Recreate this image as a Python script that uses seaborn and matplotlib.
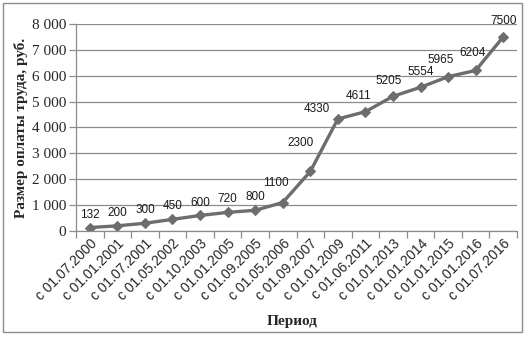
import matplotlib
matplotlib.use("Agg")
import matplotlib.pyplot as plt
import matplotlib.ticker as mticker
from matplotlib.patches import Rectangle
import seaborn as sns
import pandas as pd
import numpy as np

periods = ["с 01.07.2000", "с 01.01.2001", "с 01.07.2001", "с 01.05.2002",
           "с 01.10.2003", "с 01.01.2005", "с 01.09.2005", "с 01.05.2006",
           "с 01.09.2007", "с 01.01.2009", "с 01.06.2011", "с 01.01.2013",
           "с 01.01.2014", "с 01.01.2015", "с 01.01.2016", "с 01.07.2016"]
wages = [132, 200, 300, 450, 600, 720, 800, 1100, 2300, 4330, 4611, 5205,
         5554, 5965, 6204, 7500]

# label offsets in points (dx, dy) for readability
label_offsets = [(0, 5)] * 7 + [(-5, 10), (-7, 16), (-15, 3), (-5, 7), (-3, 7),
                                 (0, 7), (-5, 8), (-2, 8), (0, 7)]

sns.set_theme(style="white")
plt.rcParams["font.family"] = ["Liberation Serif", "DejaVu Serif"]

df = pd.DataFrame({"idx": np.arange(len(periods)), "wage": wages})

fig = plt.figure(figsize=(5.29, 3.40), dpi=100)
ax = fig.add_axes([76 / 529, 1 - 231 / 340, (517 - 76) / 529, (231 - 24) / 340])

sns.lineplot(data=df, x="idx", y="wage", ax=ax, color="#6d6d6d", linewidth=2.4,
             marker="D", markersize=5.5, markeredgecolor="#6d6d6d")

ax.set_xlim(-0.5, len(periods) - 0.5)
ax.set_ylim(0, 8000)
ax.yaxis.set_major_locator(mticker.MultipleLocator(1000))
ax.yaxis.set_major_formatter(mticker.FuncFormatter(
    lambda v, p: f"{int(v):,}".replace(",", " ")))
ax.yaxis.grid(True, color="#8c8c8c", linewidth=0.9)
ax.set_axisbelow(True)

ax.set_xticks(np.arange(len(periods)))
ax.set_xticklabels(periods, rotation=45, ha="right", rotation_mode="anchor",
                   fontsize=10, family=["Liberation Sans", "DejaVu Sans"])
ax.xaxis.set_minor_locator(mticker.FixedLocator(np.arange(-0.5, len(periods), 1)))
ax.tick_params(axis="x", which="major", length=0, pad=4)
ax.tick_params(axis="x", which="minor", length=5, color="#8c8c8c", width=0.9,
               direction="out", bottom=True)
ax.tick_params(axis="y", which="major", length=5, color="#8c8c8c", width=0.9,
               direction="out", left=True, labelsize=11, pad=2)

for s in ["top", "right"]:
    ax.spines[s].set_visible(False)
for s in ["left", "bottom"]:
    ax.spines[s].set_color("#8c8c8c")
    ax.spines[s].set_linewidth(0.9)

for i, (v, off) in enumerate(zip(wages, label_offsets)):
    ax.annotate(str(v), (i, v), xytext=off, textcoords="offset points",
                ha="center", va="bottom", fontsize=8.5,
                family=["Liberation Sans", "DejaVu Sans"], color="#1a1a1a")

ax.set_xlabel("Период", fontsize=11, fontweight="bold", labelpad=2)
ax.set_ylabel("Размер оплаты труда, руб.", fontsize=11, fontweight="bold",
              labelpad=3)
ax.xaxis.set_label_coords(0.49, -0.405)

fig.patches.append(Rectangle((3 / 529, 1 - 332 / 340), 519 / 529, 329 / 340,
                             transform=fig.transFigure, fill=False,
                             edgecolor="#8c8c8c", linewidth=1.0))

fig.savefig("out.png", dpi=100)
